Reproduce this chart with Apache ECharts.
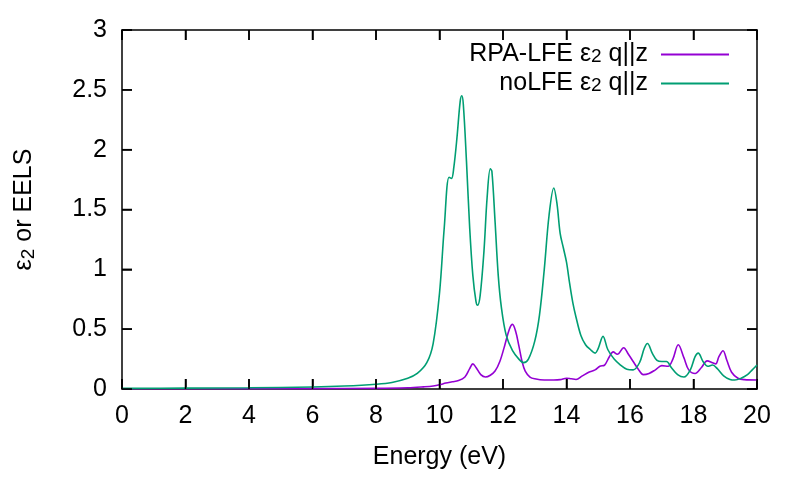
<!DOCTYPE html>
<html>
<head>
<meta charset="utf-8">
<script src="https://cdn.jsdelivr.net/npm/echarts@6/dist/echarts.min.js"></script>
<style>html,body{margin:0;padding:0;background:#fff}#c{width:800px;height:480px}</style>
</head>
<body>
<div id="c"></div>
<script>
var xTicks = [0, 2, 4, 6, 8, 10, 12, 14, 16, 18, 20];
var yTicks = [0, 0.5, 1, 1.5, 2, 2.5, 3];

var energyNoLFE = [0,2,4,6,7,8,8.5,9,9.3,9.6,9.8,10.0,10.15,10.3,10.38,10.45,10.55,10.65,10.7,10.75,10.85,10.95,11.05,11.15,11.2,11.28,11.4,11.5,11.6,11.65,11.75,11.85,11.95,12.1,12.3,12.5,12.65,12.8,13.0,13.15,13.3,13.45,13.6,13.7,13.8,13.9,14.0,14.1,14.2,14.3,14.45,14.6,14.75,14.9,15.0,15.15,15.3,15.5,15.7,15.9,16.1,16.3,16.45,16.55,16.7,16.85,17.0,17.15,17.3,17.5,17.7,17.9,18.05,18.15,18.3,18.45,18.6,18.75,18.95,19.15,19.3,19.5,19.7,19.85,20];
var noLFE = [0.005,0.007,0.01,0.017,0.025,0.04,0.055,0.09,0.13,0.22,0.38,0.8,1.35,1.77,1.76,1.85,2.1,2.4,2.45,2.38,1.9,1.35,0.95,0.73,0.70,0.78,1.15,1.6,1.84,1.82,1.4,0.95,0.68,0.45,0.32,0.25,0.22,0.25,0.4,0.62,1.0,1.45,1.68,1.55,1.30,1.18,1.06,0.88,0.72,0.6,0.45,0.37,0.33,0.30,0.34,0.44,0.33,0.25,0.2,0.165,0.16,0.22,0.34,0.38,0.30,0.24,0.23,0.23,0.18,0.12,0.10,0.16,0.27,0.30,0.23,0.19,0.20,0.17,0.11,0.08,0.075,0.09,0.12,0.16,0.20];

var energyLFE = [0,4,6,8,9,9.5,9.8,10.0,10.2,10.4,10.6,10.8,10.95,11.05,11.15,11.3,11.45,11.6,11.75,11.9,12.05,12.2,12.3,12.4,12.5,12.6,12.7,12.85,13.0,13.3,13.6,13.8,14.0,14.15,14.3,14.5,14.7,14.9,15.05,15.2,15.35,15.47,15.6,15.8,15.95,16.1,16.25,16.42,16.6,16.8,17.0,17.2,17.35,17.52,17.7,17.85,18.05,18.25,18.43,18.6,18.7,18.8,18.93,19.05,19.2,19.4,19.6,20];
var rpaLFE = [0.002,0.002,0.003,0.005,0.01,0.018,0.025,0.035,0.05,0.06,0.07,0.1,0.17,0.21,0.18,0.12,0.10,0.115,0.15,0.23,0.36,0.50,0.54,0.48,0.36,0.23,0.15,0.1,0.085,0.075,0.075,0.078,0.09,0.085,0.08,0.11,0.14,0.16,0.19,0.2,0.27,0.31,0.29,0.345,0.29,0.23,0.17,0.12,0.13,0.16,0.195,0.19,0.25,0.37,0.26,0.16,0.13,0.18,0.235,0.22,0.21,0.27,0.32,0.24,0.14,0.09,0.078,0.075];

function zip(a, b) { return a.map(function (v, i) { return [v, b[i]]; }); }

var FONT = 'Liberation Sans';
var FS = 25;
var X_MIN = 0, X_MAX = 20, Y_MIN = 0, Y_MAX = 3;
var TICK_LEN = 10;
function axLine() { return {show: true, onZero: false, lineStyle: {color: '#000', width: 1.5}}; }
function axTick() { return {show: true, inside: true, length: TICK_LEN, lineStyle: {color: '#000', width: 1.5}}; }
function richStyle(lh, slh) {
  return {
    a: {fontFamily: FONT, fontSize: FS, color: '#000', lineHeight: lh},
    s: {fontFamily: FONT, fontSize: 19, color: '#000', lineHeight: slh, verticalAlign: 'bottom'},
    g: {width: 8, lineHeight: lh}
  };
}

var chart = echarts.init(document.getElementById('c'));
chart.setOption({
  animation: false,
  backgroundColor: '#fff',
  grid: {left: 122, right: 43, top: 30, bottom: 91, containLabel: false},
  legend: {
    orient: 'vertical',
    right: 71,
    top: 42,
    padding: 0,
    align: 'right',
    itemWidth: 68,
    itemHeight: 2,
    itemGap: 4,
    icon: 'rect',
    textStyle: {fontFamily: FONT, fontSize: FS, color: '#000', rich: richStyle(24, 12)},
    formatter: function (name) {
      if (name === 'RPA-LFE') return '{a|RPA-LFE ε}{s|2}{a| q||z}{g| }';
      return '{a|noLFE ε}{s|2}{a| q||z}{g| }';
    },
    data: ['RPA-LFE', 'noLFE']
  },
  xAxis: [{
    type: 'value', min: X_MIN, max: X_MAX, interval: 2,
    name: 'Energy (eV)', nameLocation: 'middle', nameGap: 56,
    nameTextStyle: {fontFamily: FONT, fontSize: FS, color: '#000'},
    axisLine: axLine(), axisTick: axTick(),
    axisLabel: {fontFamily: FONT, fontSize: FS, color: '#000', margin: 15,
      formatter: function (v) { return xTicks.indexOf(v) >= 0 ? String(v) : ''; }},
    splitLine: {show: false}
  }, {
    type: 'value', min: X_MIN, max: X_MAX, interval: 2, position: 'top',
    axisLine: axLine(), axisTick: axTick(), axisLabel: {show: false}, splitLine: {show: false}
  }],
  yAxis: [{
    type: 'value', min: Y_MIN, max: Y_MAX, interval: 0.5,
    name: '{a|ε}{s|2}{a| or EELS}', nameLocation: 'middle', nameGap: 84, nameRotate: 90,
    nameTextStyle: {fontFamily: FONT, fontSize: FS, color: '#000', rich: richStyle(28, 16)},
    axisLine: axLine(), axisTick: axTick(),
    axisLabel: {fontFamily: FONT, fontSize: FS, color: '#000', margin: 15,
      formatter: function (v) { return yTicks.indexOf(v) >= 0 ? String(v) : ''; }},
    splitLine: {show: false}
  }, {
    type: 'value', min: Y_MIN, max: Y_MAX, interval: 0.5, position: 'right',
    axisLine: axLine(), axisTick: axTick(), axisLabel: {show: false}, splitLine: {show: false}
  }],
  series: [{
    name: 'RPA-LFE', type: 'line', showSymbol: false, smooth: 0.35,
    color: '#9400d3',
    lineStyle: {color: '#9400d3', width: 1.6},
    data: zip(energyLFE, rpaLFE)
  }, {
    name: 'noLFE', type: 'line', showSymbol: false, smooth: 0.35,
    color: '#009e73',
    lineStyle: {color: '#009e73', width: 1.6},
    data: zip(energyNoLFE, noLFE)
  }]
});

// Mirror tick marks placed through the library's own scale (gnuplot-style inward ticks on all four sides)
try {
  var marks = [];
  var st = {stroke: '#000', lineWidth: 1.5};
  xTicks.forEach(function (v) {
    var b = chart.convertToPixel({gridIndex: 0}, [v, Y_MIN]);
    var t = chart.convertToPixel({gridIndex: 0}, [v, Y_MAX]);
    marks.push({type: 'line', silent: true, z: 100, shape: {x1: b[0], y1: b[1], x2: b[0], y2: b[1] - TICK_LEN}, style: st});
    marks.push({type: 'line', silent: true, z: 100, shape: {x1: t[0], y1: t[1], x2: t[0], y2: t[1] + TICK_LEN}, style: st});
  });
  yTicks.forEach(function (v) {
    var l = chart.convertToPixel({gridIndex: 0}, [X_MIN, v]);
    var r = chart.convertToPixel({gridIndex: 0}, [X_MAX, v]);
    marks.push({type: 'line', silent: true, z: 100, shape: {x1: l[0], y1: l[1], x2: l[0] + TICK_LEN, y2: l[1]}, style: st});
    marks.push({type: 'line', silent: true, z: 100, shape: {x1: r[0], y1: r[1], x2: r[0] - TICK_LEN, y2: r[1]}, style: st});
  });
  chart.setOption({graphic: {elements: marks}});
} catch (e) {}
</script>
</body>
</html>
